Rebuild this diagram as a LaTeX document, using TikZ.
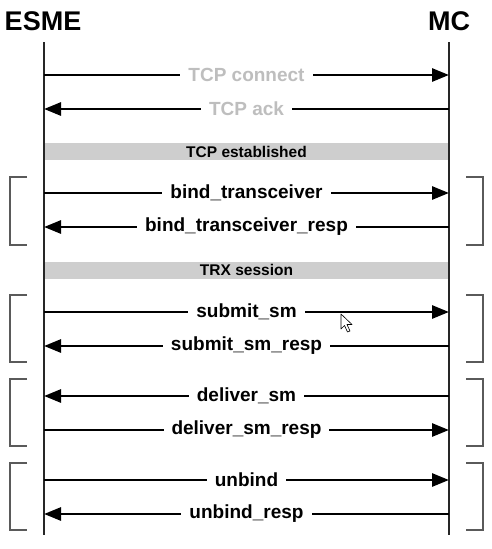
\documentclass[tikz,border=0pt]{standalone}
\usepackage{fontspec}
\setmainfont{Liberation Sans}
\usetikzlibrary{arrows.meta}
\definecolor{barregrise}{RGB}{206,206,206}
\definecolor{texteclair}{RGB}{190,190,190}
\definecolor{crochet}{RGB}{90,90,90}
\begin{document}
\begin{tikzpicture}[x=1pt,y=-1pt]
		\tikzstyle{vie}=[line width=1.2pt,draw=black!85]
		\tikzstyle{aller}=[line width=2.8pt,-{Triangle[length=17pt,width=13pt]}]
		\tikzstyle{retour}=[line width=2.8pt,{Triangle[length=17pt,width=13pt]}-]
		\tikzstyle{etiquette}=[fill=white,inner xsep=8pt,inner ysep=1pt,font=\fontsize{19}{21}\selectfont\bfseries]
		\tikzstyle{barre}=[fill=barregrise,minimum width=405pt,minimum height=17pt,inner sep=0pt,font=\fontsize{15.5}{17}\selectfont\bfseries]
		\tikzstyle{crochet}=[line width=1.3pt,draw=crochet]
		\useasboundingbox (0,0) rectangle (491,549);
		\node[font=\fontsize{27}{30}\selectfont\bfseries] (esme) at (43,21) {ESME};
		\node[font=\fontsize{27}{30}\selectfont\bfseries] (mc) at (449,21) {MC};
		\coordinate (esme_haut) at (44,42);
		\coordinate (esme_bas) at (44,535);
		\coordinate (mc_haut) at (449,42);
		\coordinate (mc_bas) at (449,535);
		\node[barre] (tcp) at (246.5,151.5) {TCP established};
		\node[barre] (trx) at (246.5,270) {TRX session};
		\draw[vie] (esme_haut) -- (esme_bas);
		\draw[vie] (mc_haut) -- (mc_bas);
		% messages
		\foreach \y/\sens/\nom/\couleur/\texte in {
			75/aller/connect/texteclair/TCP connect,
			109/retour/ack/texteclair/TCP ack,
			193/aller/bind/black/bind\_transceiver,
			227/retour/bindresp/black/bind\_transceiver\_resp,
			312/aller/submit/black/submit\_sm,
			346/retour/submitresp/black/submit\_sm\_resp,
			396/retour/deliver/black/deliver\_sm,
			430/aller/deliverresp/black/deliver\_sm\_resp,
			480/aller/unbind/black/unbind,
			514/retour/unbindresp/black/unbind\_resp}{
			\coordinate (e\nom) at (44,\y);
			\coordinate (m\nom) at (449,\y);
			\draw[\sens] (e\nom) -- (m\nom) node[etiquette,text=\couleur,midway] (t\nom) {\texte};
		}
		% crochets
		\foreach \h/\b in {177/245, 295/362, 379/446, 463/530}{
			\draw[crochet] (27,\h) -- (10,\h) -- (10,\b) -- (27,\b);
			\draw[crochet] (466,\h) -- (483,\h) -- (483,\b) -- (466,\b);
		}
		% curseur
		\draw[fill=white,line width=0.6pt,line join=round] (341,314) -- (341,329) -- (344.5,325.5) -- (347.5,332) -- (350,331) -- (347,324.5) -- (352,324.5) -- cycle;
	\end{tikzpicture}
\end{document}
